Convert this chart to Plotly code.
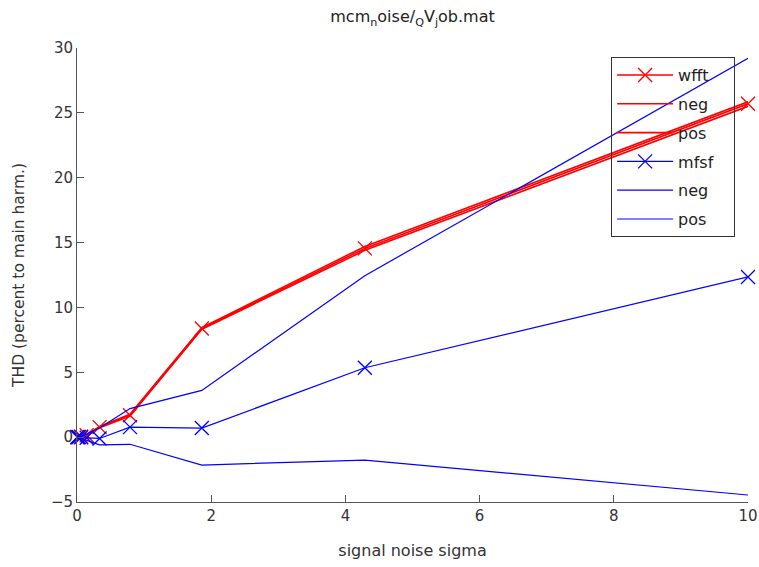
import plotly.graph_objects as go

sigma = [0.005, 0.011, 0.026, 0.062, 0.144, 0.336, 0.79, 1.86, 4.29, 10.0]

wfft = [0.0, 0.0, 0.02, 0.05, 0.15, 0.77, 1.69, 8.38, 14.55, 25.7]
wfft_neg = [0.0, 0.0, 0.02, 0.05, 0.13, 0.72, 1.62, 8.32, 14.4, 25.5]
wfft_pos = [0.0, 0.0, 0.02, 0.06, 0.17, 0.82, 1.76, 8.45, 14.7, 25.85]

mfsf = [0.0, 0.0, 0.0, -0.02, -0.05, -0.1, 0.77, 0.7, 5.35, 12.35]
mfsf_neg = [0.0, 0.0, 0.02, 0.1, 0.25, 0.7, 2.2, 3.6, 12.45, 29.2]
mfsf_pos = [0.0, 0.0, -0.02, -0.1, -0.25, -0.6, -0.55, -2.15, -1.77, -4.46]

x_ticks = [0, 2, 4, 6, 8, 10]
y_ticks = [-5, 0, 5, 10, 15, 20, 25, 30]

RED = "#ff0000"
BLUE = "#0000ff"
NB = "\u00a0"

fig = go.Figure()
series = [
    ("wfft", wfft, RED, True, 1.6),
    ("neg", wfft_neg, RED, False, 1.6),
    ("pos", wfft_pos, RED, False, 1.6),
    ("mfsf", mfsf, BLUE, True, 1.2),
    ("neg", mfsf_neg, BLUE, False, 1.2),
    ("pos", mfsf_pos, BLUE, False, 1.2),
]
for i, (name, ys, col, mk, w) in enumerate(series):
    fig.add_trace(go.Scatter(
        x=sigma, y=ys, name=name + NB * 3,
        mode="lines+markers" if mk else "lines",
        line=dict(color=col, width=w),
        marker=dict(symbol="x-thin", size=14, line=dict(color=col, width=1.3), color=col),
        cliponaxis=False,
        legendgroup="g%d" % i,
    ))

axis_common = dict(
    showgrid=False, zeroline=False, showline=True, linecolor="#555555", linewidth=1,
    ticks="inside", ticklen=7, tickcolor="#555555", mirror=False, automargin=False,
    tickfont=dict(family="DejaVu Sans", size=15, color="#333333"),
)

fig.update_layout(
    width=759, height=567,
    margin=dict(l=77, r=11, t=48, b=65),
    paper_bgcolor="white", plot_bgcolor="white",
    font=dict(family="DejaVu Sans", size=15, color="#333333"),
    title=dict(text="mcm<sub>n</sub>oise/<sub>Q</sub>V<sub>j</sub>ob.mat", x=0.5, xref="paper", xanchor="center",
               yref="container", y=1 - 11 / 567, yanchor="top", font=dict(size=16, color="#222222")),
    xaxis=dict(range=[0, 10], tickvals=x_ticks,
               title=dict(text="signal noise sigma", standoff=20, font=dict(size=16)), **axis_common),
    yaxis=dict(range=[-5, 30], tickvals=y_ticks,
               title=dict(text="THD (percent to main harm.)", standoff=22, font=dict(size=15.5)), **axis_common),
    legend=dict(x=0.796, y=0.98, xanchor="left", yanchor="top", bgcolor="rgba(255,255,255,0)",
                bordercolor="#333333", borderwidth=1, font=dict(size=16, color="#222222"),
                itemwidth=56, tracegroupgap=5),
    showlegend=True,
)

fig.write_html(
    "out.html",
    config={"displayModeBar": False},
    post_script="document.body.style.margin='0';document.body.style.overflow='hidden';",
)
